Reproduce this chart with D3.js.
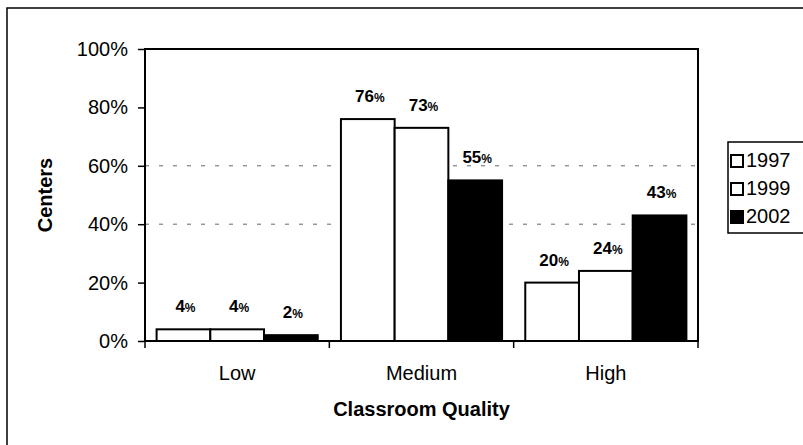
<!DOCTYPE html>
<html>
<head>
<meta charset="utf-8">
<script src="https://cdn.jsdelivr.net/npm/d3@7"></script>
<style>
	body { margin: 0; background: #fff; }
	svg { display: block; font-family: "Liberation Sans", Arial, sans-serif; }
</style>
</head>
<body>
<svg id="chart" width="803" height="445"></svg>
<script>
var categories = ['Low', 'Medium', 'High'];
var years = ['1997', '1999', '2002'];
var values1997 = [0.04, 0.76, 0.20];
var values1999 = [0.04, 0.73, 0.24];
var values2002 = [0.02, 0.55, 0.43];
var yTicks = [0, 0.2, 0.4, 0.6, 0.8, 1];
var gridTicks = [0.4, 0.6];
var fills = ['#fff', '#fff', '#000'];

var series = [values1997, values1999, values2002];

var plot = { left: 145, right: 698, top: 49, bottom: 341 };

var svg = d3.select('#chart');

// outer chart frame, runs off the right and bottom edge
svg.append('rect')
	.attr('x', 7).attr('y', 8)
	.attr('width', 820).attr('height', 460)
	.attr('fill', 'none').attr('stroke', '#000').attr('stroke-width', 1.5);

var x0 = d3.scaleBand().domain(categories).range([plot.left, plot.right]).padding(0);
var x1 = d3.scaleBand().domain(years).range([0, x0.bandwidth()])
	.paddingInner(0).paddingOuter(0.216);
var y = d3.scaleLinear().domain([0, 1]).range([plot.bottom, plot.top]);

// dashed grid lines
svg.append('g').selectAll('line').data(gridTicks)
	.enter().append('line')
		.attr('x1', plot.left).attr('x2', plot.right)
		.attr('y1', function(d) { return y(d); })
		.attr('y2', function(d) { return y(d); })
		.attr('stroke', '#666').attr('stroke-width', 1)
		.attr('stroke-dasharray', '4,10');

// bars
var groups = svg.append('g').selectAll('g').data(categories)
	.enter().append('g')
		.attr('transform', function(d) { return 'translate(' + x0(d) + ',0)'; });

groups.selectAll('rect')
	.data(function(d, i) {
		return years.map(function(yr, j) { return { year: yr, value: series[j][i], idx: j }; });
	})
	.enter().append('rect')
		.attr('x', function(d) { return x1(d.year); })
		.attr('y', function(d) { return y(d.value); })
		.attr('width', x1.bandwidth())
		.attr('height', function(d) { return y(0) - y(d.value); })
		.attr('fill', function(d) { return fills[d.idx]; })
		.attr('stroke', '#000').attr('stroke-width', 2);

// data labels, small percent sign
var labels = groups.selectAll('text')
	.data(function(d, i) {
		return years.map(function(yr, j) { return { year: yr, value: series[j][i] }; });
	})
	.enter().append('text')
		.attr('x', function(d) { return x1(d.year) + x1.bandwidth() / 2 + 2; })
		.attr('y', function(d) { return y(d.value) - 17; })
		.attr('text-anchor', 'middle')
		.attr('font-weight', 'bold')
		.attr('font-size', 17);
labels.append('tspan').text(function(d) { return Math.round(d.value * 100); });
labels.append('tspan').attr('font-size', 12).text('%');

// plot border
svg.append('rect')
	.attr('x', plot.left).attr('y', plot.top)
	.attr('width', plot.right - plot.left).attr('height', plot.bottom - plot.top)
	.attr('fill', 'none').attr('stroke', '#000').attr('stroke-width', 2);

// y axis
var yAxis = svg.append('g')
	.attr('transform', 'translate(' + plot.left + ',0)')
	.call(d3.axisLeft(y).tickValues(yTicks).tickFormat(d3.format('.0%')).tickSize(7).tickPadding(10));
yAxis.select('.domain').remove();
yAxis.selectAll('line').attr('stroke', '#000').attr('stroke-width', 1.5);
yAxis.selectAll('text').attr('font-size', 20).attr('fill', '#000')
	.attr('font-family', '"Liberation Sans", Arial, sans-serif');

// x axis ticks sit at the category boundaries
var bounds = categories.map(function(c) { return x0(c); }).concat([plot.right]);
svg.append('g').selectAll('line').data(bounds)
	.enter().append('line')
		.attr('x1', function(d) { return d; }).attr('x2', function(d) { return d; })
		.attr('y1', plot.bottom).attr('y2', plot.bottom + 7)
		.attr('stroke', '#000').attr('stroke-width', 1.5);

svg.append('g').selectAll('text').data(categories)
	.enter().append('text')
		.attr('x', function(d) { return x0(d) + x0.bandwidth() / 2; })
		.attr('y', 380)
		.attr('text-anchor', 'middle')
		.attr('font-size', 20)
		.text(function(d) { return d; });

// axis titles
svg.append('text')
	.attr('x', (plot.left + plot.right) / 2).attr('y', 416)
	.attr('text-anchor', 'middle')
	.attr('font-size', 20).attr('font-weight', 'bold')
	.text('Classroom Quality');

svg.append('text')
	.attr('transform', 'translate(52,195) rotate(-90)')
	.attr('text-anchor', 'middle')
	.attr('font-size', 20).attr('font-weight', 'bold')
	.text('Centers');

// legend
var legend = svg.append('g').attr('transform', 'translate(728,142)');
legend.append('rect')
	.attr('width', 90).attr('height', 91)
	.attr('fill', '#fff').attr('stroke', '#000').attr('stroke-width', 1.5);

var items = legend.selectAll('g.item').data(years)
	.enter().append('g')
		.attr('class', 'item')
		.attr('transform', function(d, i) { return 'translate(3,' + (13 + i * 28) + ')'; });
items.append('rect')
	.attr('x', 0).attr('y', 0).attr('width', 12).attr('height', 12)
	.attr('fill', function(d, i) { return fills[i]; })
	.attr('stroke', '#000').attr('stroke-width', 2);
items.append('text')
	.attr('x', 15).attr('y', 12)
	.attr('font-size', 20)
	.text(function(d) { return d; });
</script>
</body>
</html>
